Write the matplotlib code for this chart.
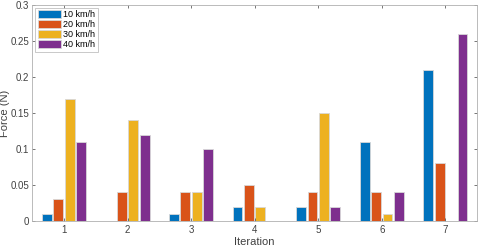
import numpy as np
import matplotlib
matplotlib.use("Agg")
import matplotlib.pyplot as plt

plt.rcParams['font.family'] = ['Liberation Sans', 'DejaVu Sans']

iterations = [1, 2, 3, 4, 5, 6, 7]
speeds = ['10 km/h', '20 km/h', '30 km/h', '40 km/h']
force_10 = [0.01, 0.0, 0.01, 0.02, 0.02, 0.11, 0.21]
force_20 = [0.03, 0.04, 0.04, 0.05, 0.04, 0.04, 0.08]
force_30 = [0.17, 0.14, 0.04, 0.02, 0.15, 0.01, 0.0]
force_40 = [0.11, 0.12, 0.10, 0.0, 0.02, 0.04, 0.26]
colors = ['#0072BD', '#D95319', '#EDB120', '#7E2F8E']

fig = plt.figure(figsize=(4.8, 2.47), dpi=100)
ax = fig.add_axes([0.067, 0.105, 0.927, 0.875])

x = np.array(iterations)
offsets = [-0.27, -0.09, 0.09, 0.27]
for vals, off, c, lab in zip([force_10, force_20, force_30, force_40], offsets, colors, speeds):
    ax.bar(x + off, vals, width=0.155, color=c, edgecolor='#d8d8d8', linewidth=0.6, label=lab)

ax.set_xlim(0.5, 7.5)
ax.set_ylim(0, 0.3)
ax.set_xticks(iterations)
ax.set_yticks([0, 0.05, 0.1, 0.15, 0.2, 0.25, 0.3])
ax.set_yticklabels(['0', '0.05', '0.1', '0.15', '0.2', '0.25', '0.3'])
ax.tick_params(direction='in', top=True, right=True, labelsize=7, colors='#404040',
               length=2.5, width=0.5, pad=3)
ax.tick_params(axis='y', pad=2)
for s in ax.spines.values():
    s.set_color('#b0b0b0')
    s.set_linewidth(0.6)
ax.set_xlabel('Iteration', fontsize=8, color='#404040', labelpad=1)
ax.set_ylabel('Force (N)', fontsize=8, color='#404040')
ax.yaxis.set_label_coords(-0.049, 0.5)
leg = ax.legend(loc='upper left', fontsize=6.5, frameon=True, fancybox=False,
                edgecolor='#b0b0b0', handlelength=2.6, handleheight=0.9,
                handletextpad=0.2, labelspacing=0.1, borderpad=0.3,
                borderaxespad=0.3)
leg.get_frame().set_linewidth(0.6)

fig.savefig('out.png', dpi=100)
